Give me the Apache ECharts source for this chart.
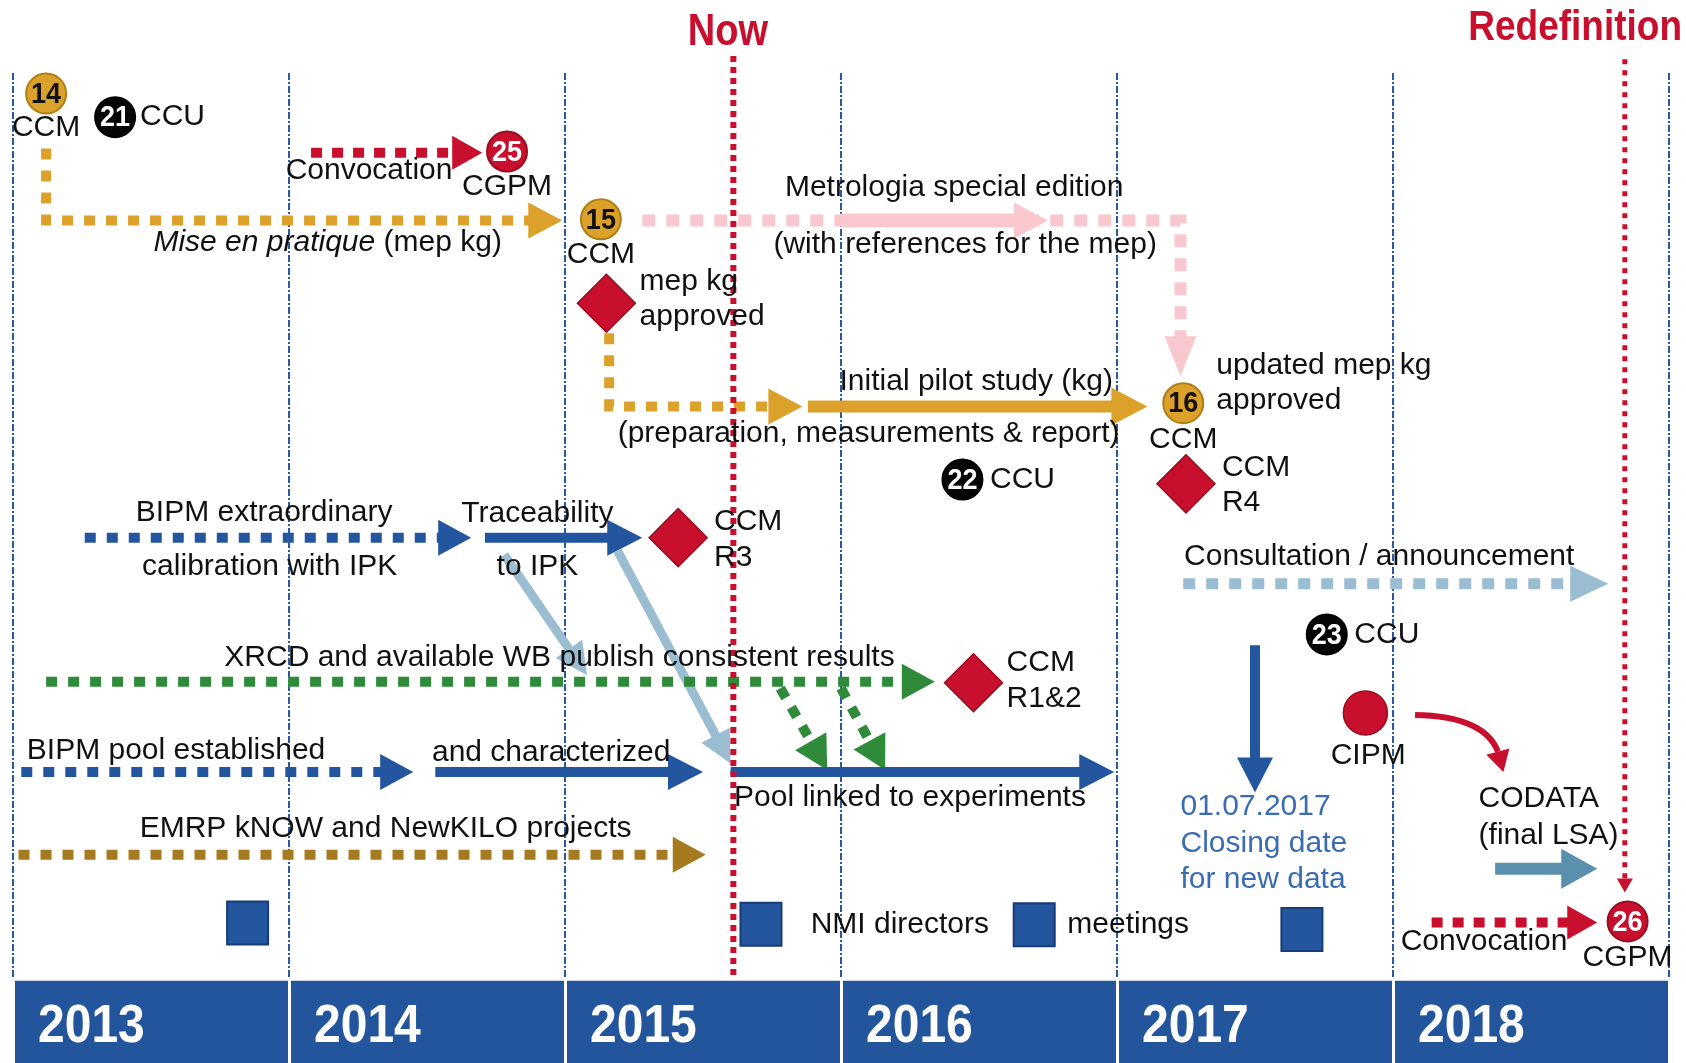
<!DOCTYPE html>
<html><head><meta charset="utf-8">
<script src="https://cdn.jsdelivr.net/npm/echarts@6/dist/echarts.min.js"></script>
<style>html,body{margin:0;padding:0;background:#fff}#c{width:1686px;height:1063px}</style>
</head><body><div id="c"></div>
<script>
// ---------------- DATA (x = calendar year, y = lane from top) ----------------
const years = [2013, 2014, 2015, 2016, 2017, 2018];
const yearLabels = ['2013', '2014', '2015', '2016', '2017', '2018'];
const yearBoundaries = [2013, 2014, 2015, 2016, 2017, 2018, 2019];

const milestones = [
  { name: 'Now', year: 2015.61, from: 5.2, to: 90.8, title: [2015.59, 3.0] },
  { name: 'Redefinition', year: 2018.84, from: 5.5, to: 83.0, title: [2018.66, 2.6] }
];

// [year, lane, number, body]
const meetings = [
  [2013.12, 8.7, '14', 'CCM'], [2013.37, 10.9, '21', 'CCU'], [2014.79, 14.1, '25', 'CGPM'],
  [2015.13, 20.4, '15', 'CCM'], [2017.24, 37.5, '16', 'CCM'], [2016.44, 44.6, '22', 'CCU'],
  [2017.76, 59.0, '23', 'CCU'], [2018.85, 85.7, '26', 'CGPM']
];

// CCM decisions (diamonds): [year, lane]
const decisions = [[2015.15, 28.2], [2017.25, 45.0], [2015.41, 50.0], [2016.48, 63.5]];
// CIPM meeting
const cipm = [[2017.90, 66.3]];
// NMI directors meetings (squares)
const directorsMeetings = [[2013.85, 85.85], [2015.71, 85.95], [2016.70, 86.0], [2017.67, 86.45]];

// arrows: kind + path points [year, lane]
const arrows = [
  { kind: 'redDot',    pts: [[2014.08, 14.2], [2014.70, 14.2]] },
  { kind: 'goldDot',   pts: [[2013.12, 13.8], [2013.12, 20.5], [2014.99, 20.5]] },
  { kind: 'pinkDot',   pts: [[2015.28, 20.5], [2017.23, 20.5], [2017.23, 35.0]] },
  { kind: 'pinkSolid', pts: [[2016.00, 20.5], [2016.75, 20.5]] },
  { kind: 'goldDot',   pts: [[2015.16, 31.0], [2015.16, 37.8], [2015.86, 37.8]] },
  { kind: 'goldSolid', pts: [[2015.88, 37.8], [2017.11, 37.8]] },
  { kind: 'blueDot',   pts: [[2013.26, 50.0], [2014.66, 50.0]] },
  { kind: 'blueSolid', pts: [[2014.71, 50.0], [2015.28, 50.0]] },
  { kind: 'paleBlue',  pts: [[2014.78, 51.6], [2015.08, 62.8]] },
  { kind: 'paleBlue',  pts: [[2015.19, 51.2], [2015.60, 71.0]] },
  { kind: 'greenDot',  pts: [[2013.12, 63.4], [2016.34, 63.4]] },
  { kind: 'greenDot',  pts: [[2015.78, 64.0], [2015.95, 71.6]] },
  { kind: 'greenDot',  pts: [[2016.00, 64.0], [2016.16, 71.6]] },
  { kind: 'blueDot',   pts: [[2013.03, 71.8], [2014.45, 71.8]] },
  { kind: 'blueSolid', pts: [[2014.53, 71.8], [2015.50, 71.8]] },
  { kind: 'blueSolid', pts: [[2015.60, 71.8], [2016.99, 71.8]] },
  { kind: 'brownDot',  pts: [[2013.02, 79.5], [2015.51, 79.5]] },
  { kind: 'paleDot',   pts: [[2017.24, 54.3], [2018.78, 54.3]] },
  { kind: 'blueSolid', pts: [[2017.50, 60.0], [2017.50, 73.7]] },
  { kind: 'steel',     pts: [[2018.37, 80.8], [2018.74, 80.8]] },
  { kind: 'redDot',    pts: [[2018.14, 85.8], [2018.74, 85.8]] }
];
// CIPM -> CODATA curved link: start, control, shaft end, tip
const codataLink = [[2018.08, 66.5], [2018.33, 66.6], [2018.38, 69.9], [2018.40, 71.8]];

// text labels: [year, lane, text, anchor]
const labels = [
  [2013.12, 11.9, 'CCM', 'center'], [2013.46, 10.9, 'CCU', 'left'],
  [2014.29, 15.9, 'Convocation', 'center'], [2014.79, 17.4, 'CGPM', 'center'],
  [2014.14, 22.6, '{i|Mise en pratique} (mep kg)', 'center'],
  [2015.13, 23.7, 'CCM', 'center'],
  [2016.41, 17.5, 'Metrologia special edition', 'center'],
  [2016.45, 22.8, '(with references for the mep)', 'center'],
  [2015.27, 26.2, 'mep kg', 'left'], [2015.27, 29.5, 'approved', 'left'],
  [2016.49, 35.5, 'Initial pilot study (kg)', 'center'],
  [2016.10, 40.3, '(preparation, measurements & report)', 'center'],
  [2017.36, 34.0, 'updated mep kg', 'left'], [2017.36, 37.3, 'approved', 'left'],
  [2017.24, 40.9, 'CCM', 'center'], [2016.54, 44.6, 'CCU', 'left'],
  [2017.38, 43.5, 'CCM', 'left'], [2017.38, 46.8, 'R4', 'left'],
  [2013.91, 47.7, 'BIPM extraordinary', 'center'], [2013.93, 52.7, 'calibration with IPK', 'center'],
  [2014.90, 47.8, 'Traceability', 'center'], [2014.90, 52.7, 'to IPK', 'center'],
  [2015.54, 48.5, 'CCM', 'left'], [2015.54, 51.9, 'R3', 'left'],
  [2014.98, 61.2, 'XRCD and available WB publish consistent results', 'center'],
  [2016.60, 61.6, 'CCM', 'left'], [2016.60, 65.0, 'R1&2', 'left'],
  [2013.05, 69.8, 'BIPM pool established', 'left'],
  [2014.95, 70.0, 'and characterized', 'center'],
  [2016.25, 74.2, 'Pool linked to experiments', 'center'],
  [2014.35, 77.1, 'EMRP kNOW and NewKILO projects', 'center'],
  [2015.89, 86.0, 'NMI directors', 'left'], [2016.82, 86.0, 'meetings', 'left'],
  [2017.95, 51.8, 'Consultation / announcement', 'center'],
  [2017.86, 59.0, 'CCU', 'left'],
  [2017.91, 70.3, 'CIPM', 'center'],
  [2018.31, 74.3, 'CODATA', 'left'], [2018.31, 77.7, '(final LSA)', 'left'],
  [2018.33, 87.6, 'Convocation', 'center'], [2018.85, 89.1, 'CGPM', 'center']
];
const dateLabels = [
  [2017.23, 75.0, '01.07.2017', 'left'], [2017.23, 78.5, 'Closing date', 'left'],
  [2017.23, 81.8, 'for new data', 'left']
];

// ---------------- STYLES ----------------
const FONT = '"Liberation Sans", Arial, Helvetica, sans-serif';
const RED = '#C8102E', GOLD = '#DCA12A', BLUE = '#2456A0';
const arrowStyles = {
  redDot:    { color: RED, width: 10, dash: [11, 10], head: [30, 17] },
  goldDot:   { color: GOLD, width: 10, dash: [11, 11], head: [34, 18] },
  goldSolid: { color: GOLD, width: 12, dash: null, head: [36, 19] },
  pinkDot:   { color: '#F9C8CE', width: 12, dash: [13, 11], head: [40, 16] },
  pinkSolid: { color: '#F9C8CE', width: 14, dash: null, head: [34, 18] },
  blueDot:   { color: BLUE, width: 10, dash: [11, 11], head: [33, 18] },
  blueSolid: { color: BLUE, width: 10, dash: null, head: [35, 18] },
  paleBlue:  { color: '#9BBDD1', width: 9, dash: null, head: [32, 16] },
  greenDot:  { color: '#2F8B3A', width: 10, dash: [11, 11], head: [33, 18] },
  brownDot:  { color: '#A67A1F', width: 10, dash: [11, 11], head: [33, 18] },
  paleDot:   { color: '#9BBDD1', width: 11, dash: [12, 11], head: [38, 18] },
  steel:     { color: '#5A8FAE', width: 12, dash: null, head: [36, 20] }
};
const meetingStyles = {
  CCM:  { fill: GOLD, stroke: '#B07E16', text: '#111' },
  CCU:  { fill: '#050505', stroke: '#000', text: '#fff' },
  CGPM: { fill: RED, stroke: '#9A0C20', text: '#fff' }
};
const LINE_TOP = 6.8, LINE_BOTTOM = 91.0, BAND_TOP = 91.2, BAND_BOTTOM = 98.86, BAND_TEXT = 95.5;

function arrowEls(p, st) {
  const n = p.length;
  const [ex, ey] = p[n - 1], [px, py] = p[n - 2];
  const L = Math.hypot(ex - px, ey - py), ux = (ex - px) / L, uy = (ey - py) / L;
  const hl = st.head[0], hw = st.head[1];
  const bx = ex - ux * hl, by = ey - uy * hl;
  const shaft = p.slice(0, n - 1).concat([[bx + ux, by + uy]]);
  return [
    { type: 'polyline', shape: { points: shaft },
      style: { stroke: st.color, lineWidth: st.width, lineDash: st.dash, lineCap: 'butt', lineJoin: 'miter', fill: null } },
    { type: 'polygon', shape: { points: [[ex, ey], [bx - uy * hw, by + ux * hw], [bx + uy * hw, by - ux * hw]] },
      style: { fill: st.color } }
  ];
}
function textEl(p, text, align, color) {
  return { type: 'text', style: { text: text, x: p[0], y: p[1], fill: color, fontSize: 30, fontFamily: FONT,
    align: align, verticalAlign: 'middle', textAlign: align, textVerticalAlign: 'middle',
    rich: { i: { fontStyle: 'italic', fontSize: 30, fontFamily: FONT, fill: color } } } };
}
// tall bold text (condensed look) via vertical scaling around its anchor
function tallText(p, text, align, color, size, sy) {
  return { type: 'text', x: p[0], y: p[1], scaleY: sy,
    style: { text: text, x: 0, y: 0, fill: color, fontSize: size, fontWeight: 'bold', fontFamily: FONT,
      align: align, verticalAlign: 'middle', textAlign: align, textVerticalAlign: 'middle' } };
}

const chart = echarts.init(document.getElementById('c'), null, { renderer: 'canvas' });
const option = {
  animation: false,
  backgroundColor: '#fff',
  grid: { left: 13, right: 17, top: 0, bottom: 0, containLabel: false },
  xAxis: { type: 'value', min: 2013, max: 2019, show: false },
  yAxis: { type: 'value', min: 0, max: 98.86, inverse: true, show: false },
  series: [
    { type: 'custom', z: 1, data: yearBoundaries.map(y => [y, LINE_TOP]),
      renderItem: (params, api) => {
        const x = yearBoundaries[params.dataIndex];
        const a = api.coord([x, LINE_TOP]), b = api.coord([x, LINE_BOTTOM]);
        return { type: 'line', shape: { x1: a[0], y1: a[1], x2: b[0], y2: b[1] },
          style: { stroke: '#2A58A5', lineWidth: 2, lineDash: [7, 2, 2, 2] } };
      } },
    { type: 'custom', z: 1, data: years.map(y => [y, BAND_TOP]),
      renderItem: (params, api) => {
        const y = years[params.dataIndex];
        const a = api.coord([y, BAND_TOP]), b = api.coord([y + 1, BAND_BOTTOM]);
        return { type: 'group', children: [
          { type: 'rect', shape: { x: a[0] + 2, y: a[1], width: b[0] - a[0] - 3, height: b[1] - a[1] + 2 },
            style: { fill: '#23559C' } },
          tallText([a[0] + 25, api.coord([y, BAND_TEXT])[1]], yearLabels[params.dataIndex], 'left', '#fff', 48, 1.13)
        ] };
      } },
    { type: 'custom', z: 3, data: arrows.map(a => a.pts[0]),
      renderItem: (params, api) => {
        const a = arrows[params.dataIndex];
        return { type: 'group', children: arrowEls(a.pts.map(q => api.coord(q)), arrowStyles[a.kind]) };
      } },
    { type: 'custom', z: 3, data: [codataLink[0]],
      renderItem: (params, api) => {
        const p = codataLink.map(q => api.coord(q));
        const [tx, ty] = p[3], [sx, sy] = p[2];
        const L = Math.hypot(tx - sx, ty - sy), ux = (tx - sx) / L, uy = (ty - sy) / L, hw = 12;
        return { type: 'group', children: [
          { type: 'bezierCurve', shape: { x1: p[0][0], y1: p[0][1], cpx1: p[1][0], cpy1: p[1][1], x2: sx, y2: sy },
            style: { stroke: RED, lineWidth: 6, fill: null } },
          { type: 'polygon', shape: { points: [[tx, ty], [sx - uy * hw, sy + ux * hw], [sx + uy * hw, sy - ux * hw]] },
            style: { fill: RED } }
        ] };
      } },
    { type: 'custom', z: 4, data: milestones.map(m => [m.year, m.from]),
      renderItem: (params, api) => {
        const m = milestones[params.dataIndex];
        const a = api.coord([m.year, m.from]), b = api.coord([m.year, m.to]), t = api.coord(m.title);
        const children = [];
        if (params.dataIndex === 0) {
          children.push({ type: 'line', shape: { x1: a[0], y1: a[1], x2: b[0], y2: b[1] },
            style: { stroke: RED, lineWidth: 6, lineDash: [6, 5] } });
        } else {
          children.push(...arrowEls([a, b], { color: RED, width: 5, dash: [5, 6], head: [14, 8] }));
        }
        children.push(tallText(t, m.name, 'center', RED, params.dataIndex === 0 ? 38 : 37, 1.17));
        return { type: 'group', children: children };
      } },
    { type: 'custom', z: 5, data: decisions,
      renderItem: (params, api) => {
        const p = api.coord(decisions[params.dataIndex]), h = 29;
        return { type: 'polygon', shape: { points: [[p[0], p[1] - h], [p[0] + h, p[1]], [p[0], p[1] + h], [p[0] - h, p[1]]] },
          style: { fill: RED, stroke: '#9A0C20', lineWidth: 1.5 } };
      } },
    { type: 'custom', z: 5, data: cipm,
      renderItem: (params, api) => {
        const p = api.coord(cipm[params.dataIndex]);
        return { type: 'circle', shape: { cx: p[0], cy: p[1], r: 22 }, style: { fill: RED, stroke: '#9A0C20', lineWidth: 1.5 } };
      } },
    { type: 'custom', z: 5, data: directorsMeetings,
      renderItem: (params, api) => {
        const p = api.coord(directorsMeetings[params.dataIndex]);
        return { type: 'rect', shape: { x: p[0] - 20.5, y: p[1] - 21.5, width: 41, height: 43 },
          style: { fill: BLUE, stroke: '#163C76', lineWidth: 2 } };
      } },
    { type: 'custom', z: 5, data: meetings.map(m => [m[0], m[1]]),
      renderItem: (params, api) => {
        const m = meetings[params.dataIndex], s = meetingStyles[m[3]];
        const p = api.coord([m[0], m[1]]);
        return { type: 'group', children: [
          { type: 'circle', shape: { cx: p[0], cy: p[1], r: 20 }, style: { fill: s.fill, stroke: s.stroke, lineWidth: 2 } },
          tallText([p[0], p[1] + 1], m[2], 'center', s.text, 27, 1.1)
        ] };
      } },
    { type: 'custom', z: 6, data: labels.map(l => [l[0], l[1]]),
      renderItem: (params, api) => {
        const l = labels[params.dataIndex];
        return textEl(api.coord([l[0], l[1]]), l[2], l[3], '#111');
      } },
    { type: 'custom', z: 6, data: dateLabels.map(l => [l[0], l[1]]),
      renderItem: (params, api) => {
        const l = dateLabels[params.dataIndex];
        return textEl(api.coord([l[0], l[1]]), l[2], l[3], '#3A6CB2');
      } }
  ]
};
chart.setOption(option);
</script>
</body></html>
